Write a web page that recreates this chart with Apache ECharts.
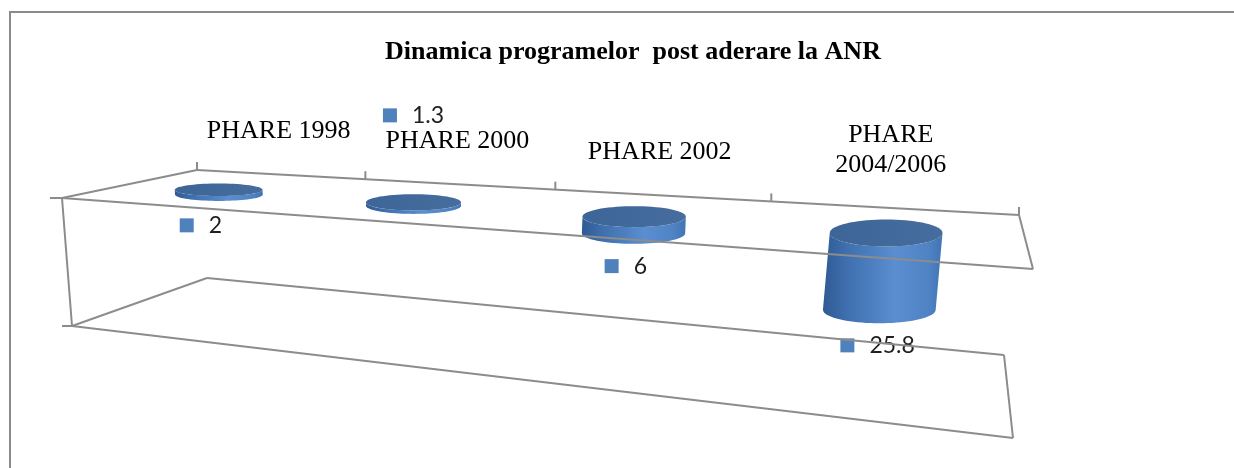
<!DOCTYPE html>
<html><head><meta charset="utf-8">
<script src="https://cdn.jsdelivr.net/npm/echarts@6/dist/echarts.min.js"></script>
<style>html,body{margin:0;padding:0;background:#fff}#c{width:1234px;height:468px}</style>
</head><body><div id="c"></div>
<script>
// ---------- data ----------
const chartTitle = 'Dinamica programelor  post aderare la ANR';
const categories = ['PHARE 1998', 'PHARE 2000', 'PHARE 2002', 'PHARE 2004/2006'];
const values = [2, 1.3, 6, 25.8];
const valueMax = 50;

// ---------- layout / style (pseudo-3D box, not data) ----------
const BOX = {
  top:    { FL: [62, 198], BL: [197, 170], BR: [1019, 215], FR: [1033, 269] },
  bottom: { FL: [72, 326], BL: [207, 278], BR: [1004, 355], FR: [1013, 438] }
};
const PERSPECTIVE = 1.294;
const LINE = '#8c8c8c';
const LABEL_ABOVE = 1; // Excel put this data label above the chart
const CAT_FONT = '26px "Liberation Serif"';
const CAT_MAX_W = 180;

function persp(u) { return u / (u + PERSPECTIVE * (1 - u)); }
function lerp(a, b, t) { return [a[0] + (b[0] - a[0]) * t, a[1] + (b[1] - a[1]) * t]; }
function project(u, d, v) {
  const p = persp(u);
  const plane = P => lerp(lerp(P.FL, P.FR, p), lerp(P.BL, P.BR, p), d);
  return lerp(plane(BOX.top), plane(BOX.bottom), v);
}
function norm(cs, pt) { return [(pt[0] - cs.x) / cs.width, (pt[1] - cs.y) / cs.height]; }

const measureCtx = document.createElement('canvas').getContext('2d');
function wrapWords(text) {
  measureCtx.font = CAT_FONT;
  if (measureCtx.measureText(text).width <= CAT_MAX_W) return text;
  const k = text.lastIndexOf(' ');
  return k > 0 ? text.slice(0, k) + '\n' + text.slice(k + 1) : text;
}

function ellipsePts(cx, cy, rx, ry, t0, t1, n) {
  const pts = [];
  for (let k = 0; k <= n; k++) {
    const t = t0 + (t1 - t0) * k / n;
    pts.push([cx + rx * Math.cos(t), cy + ry * Math.sin(t)]);
  }
  return pts;
}

function renderBar(params, api) {
  const cs = params.coordSys;
  const i = api.value(0), val = api.value(1);
  const n0 = norm(cs, api.coord([i, 0]));
  const n1 = norm(cs, api.coord([i, val]));
  const u = n0[0];
  const p = persp(u);
  const catW = cs.width / categories.length;
  const rx = catW * (0.174 + 0.069 * p);
  const ry = rx * (0.13 + 0.13 * p);
  const top = project(u, 0.5, n0[1]);
  const bot = project(u, 0.5, n1[1]);

  const side = [[top[0] - rx, top[1]]]
    .concat(ellipsePts(bot[0], bot[1], rx, ry, Math.PI, 0, 40))
    .concat(ellipsePts(top[0], top[1], rx, ry, 0, Math.PI, 40));
  const topFace = ellipsePts(top[0], top[1], rx, ry, 0, Math.PI * 2, 72);

  const children = [
    { type: 'polygon', shape: { points: side },
      style: { fill: new echarts.graphic.LinearGradient(0, 0, 1, 0, [
        { offset: 0, color: '#2f5b93' }, { offset: 0.2, color: '#3f6fae' },
        { offset: 0.6, color: '#5a8ed0' }, { offset: 0.88, color: '#4f83c4' },
        { offset: 1, color: '#4274b2' }]) } },
    { type: 'polygon', shape: { points: topFace },
      style: { fill: new echarts.graphic.LinearGradient(0, 0, 1, 0, [
        { offset: 0, color: '#3d6597' }, { offset: 1, color: '#466d9e' }]) } }
  ];

  // data label
  let anchor;
  if (i === LABEL_ABOVE) {
    const a = project(u, 0.5, n0[1]);
    anchor = [a[0], a[1] - 87];
  } else {
    const a = project(u, 0.35, n1[1]);
    anchor = [a[0], a[1] + 26];
  }
  children.push({
    type: 'text', x: anchor[0], y: anchor[1], z2: 5,
    style: {
      text: '{sq|}{t|' + val + '}',
      align: 'center', verticalAlign: 'middle',
      rich: {
        sq: { width: 14, height: 14, backgroundColor: '#4f81bd' },
        t: { fontSize: 23, fontFamily: 'Lato', fill: '#1e1e1e', padding: [0, 0, 0, 15] }
      }
    }
  });

  // category label (above back edge)
  const b = project(u, 1, 0);
  children.push({
    type: 'text', x: b[0], y: b[1] - 28,
    style: {
      text: wrapWords(categories[i]),
      align: 'center', verticalAlign: 'bottom',
      fontSize: 26, lineHeight: 30, fontFamily: 'Liberation Serif', fill: '#000'
    }
  });
  return { type: 'group', children };
}

function renderFrame(params, api) {
  const cs = params.coordSys;
  const T = BOX.top, B = BOX.bottom;
  const line = (a, b) => ({ type: 'line', shape: { x1: a[0], y1: a[1], x2: b[0], y2: b[1] },
    style: { stroke: LINE, lineWidth: 2 } });
  const children = [];
  [T, B].forEach(P => {
    children.push(line(P.FL, P.BL), line(P.BL, P.BR), line(P.BR, P.FR), line(P.FR, P.FL));
  });
  // value axis (front-left edge) and its ticks
  const v0 = norm(cs, api.coord([0, 0]))[1];
  const v1 = norm(cs, api.coord([0, valueMax]))[1];
  const a0 = project(0, 0, v0), a1 = project(0, 0, v1);
  children.push(line(a0, a1));
  children.push(line([a0[0] - 12, a0[1]], a0), line([a1[0] - 10, a1[1]], a1));
  // category boundary ticks on back edge
  for (let k = 0; k <= categories.length; k++) {
    const q = project(k / categories.length, 1, v0);
    children.push(line(q, [q[0], q[1] - 8]));
  }
  return { type: 'group', children };
}

const chart = echarts.init(document.getElementById('c'));
chart.setOption({
  animation: false,
  backgroundColor: '#fff',
  title: {
    text: chartTitle, left: 628, top: 34, textAlign: 'center',
    textStyle: { fontFamily: 'Liberation Serif', fontWeight: 'bold', fontSize: 26, color: '#000' }
  },
  graphic: [{
    type: 'rect', shape: { x: 10, y: 12, width: 1300, height: 500 },
    style: { fill: 'none', stroke: '#8a8a8a', lineWidth: 2 }, silent: true, z: -10
  }],
  grid: { left: 62, right: 201, top: 170, bottom: 30 },
  xAxis: { type: 'category', data: categories, show: false },
  yAxis: { type: 'value', min: 0, max: valueMax, interval: valueMax, inverse: true, show: false },
  series: [
    { type: 'custom', name: 'bars', renderItem: renderBar, z: 2,
      data: values.map((v, i) => [i, v]) },
    { type: 'custom', name: 'frame', renderItem: renderFrame, z: 3, silent: true,
      data: [[0, 0]] }
  ]
});
</script></body></html>
